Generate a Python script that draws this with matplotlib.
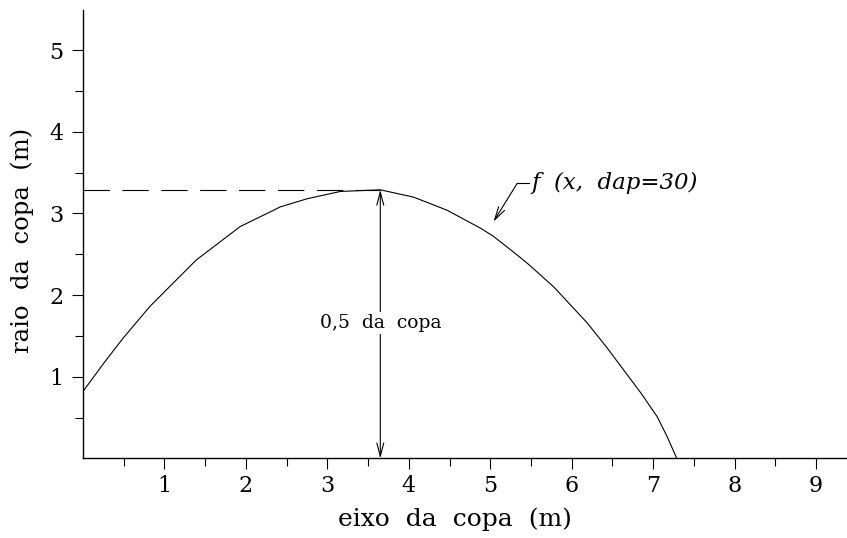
import numpy as np
import matplotlib
matplotlib.use("Agg")
import matplotlib.pyplot as plt
from matplotlib.ticker import FixedLocator

plt.rcParams["font.family"] = ["DejaVu Serif"]
plt.rcParams["lines.scale_dashes"] = False

# crown radius profile along the crown axis (m)
eixo = [0.00, 0.25, 0.49, 0.82, 1.07, 1.39, 1.93, 2.34, 2.42, 2.75, 3.16,
        3.65, 4.06, 4.47, 4.88, 5.04, 5.37, 5.49, 5.78, 6.19, 6.43, 6.64,
        6.85, 7.05, 7.17, 7.29]
raio = [0.82, 1.16, 1.47, 1.86, 2.11, 2.43, 2.84, 3.04, 3.08, 3.18, 3.27,
        3.29, 3.20, 3.04, 2.82, 2.72, 2.46, 2.36, 2.10, 1.66, 1.36, 1.08,
        0.80, 0.51, 0.27, 0.00]

x_major = [1, 2, 3, 4, 5, 6, 7, 8, 9]
x_minor = [0.5, 1.5, 2.5, 3.5, 4.5, 5.5, 6.5, 7.5, 8.5]
y_major = [1, 2, 3, 4, 5]
y_minor = [0.5, 1.5, 2.5, 3.5, 4.5]

x_max, y_max = eixo[int(np.argmax(raio))], max(raio)

fig = plt.figure(figsize=(8.47, 5.38), dpi=100)
ax = fig.add_axes([0.098, 0.148, 0.902, 0.833])

ax.plot(eixo, raio, color="black", lw=0.8, solid_joinstyle="round")

# maximum radius: dashed reference line and half-crown arrow
ax.plot([0, x_max], [y_max, y_max], color="black", lw=0.8, dashes=(19, 9))
ax.annotate("", xy=(x_max, 0), xytext=(x_max, y_max),
            arrowprops=dict(arrowstyle="<->, head_length=0.95, head_width=0.25",
                            mutation_scale=10, lw=0.8, color="black",
                            shrinkA=0, shrinkB=0))
ax.text(x_max, 1.66, "0,5  da  copa", ha="center", va="center", fontsize=13.5,
        bbox=dict(facecolor="white", edgecolor="none", pad=1.5))

# curve label with leader
ax.plot([5.33, 5.47], [3.368, 3.368], color="black", lw=0.8)
ax.annotate("", xy=(5.04, 2.90), xytext=(5.33, 3.368),
            arrowprops=dict(arrowstyle="->, head_length=0.95, head_width=0.25",
                            mutation_scale=10, lw=0.8, color="black",
                            shrinkA=0, shrinkB=0))
ax.text(5.50, 3.368, "f  (x,  dap=30)", ha="left", va="center", fontsize=16.5,
        style="italic")

ax.set_xlim(0, 9.38)
ax.set_ylim(0, 5.49)
ax.xaxis.set_major_locator(FixedLocator(x_major))
ax.xaxis.set_minor_locator(FixedLocator(x_minor))
ax.yaxis.set_major_locator(FixedLocator(y_major))
ax.yaxis.set_minor_locator(FixedLocator(y_minor))
ax.tick_params(which="major", length=8, width=0.8, labelsize=16, pad=4)
ax.tick_params(which="minor", length=5.5, width=0.8)
ax.tick_params(axis="y", which="major", pad=6)

for side in ("top", "right"):
    ax.spines[side].set_visible(False)
for side in ("left", "bottom"):
    ax.spines[side].set_linewidth(1.0)

ax.set_xlabel("eixo  da  copa  (m)", fontsize=18)
ax.set_ylabel("raio  da  copa  (m)", fontsize=17.5)
ax.xaxis.set_label_coords(0.487, -0.110)
ax.yaxis.set_label_coords(-0.064, 0.487)

fig.savefig("out.png", dpi=100)
